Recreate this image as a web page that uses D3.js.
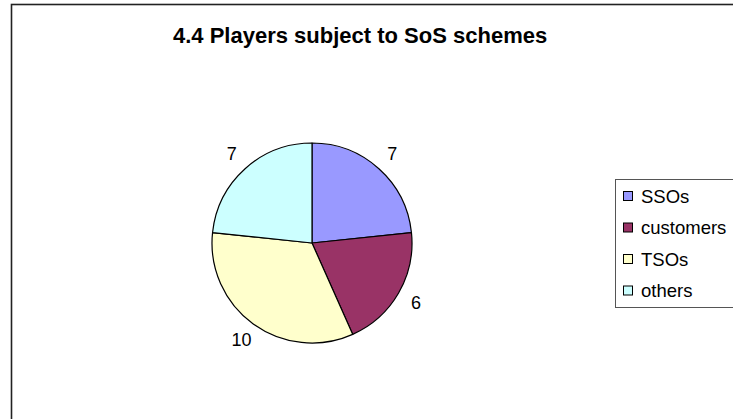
<!DOCTYPE html>
<html>
<head>
<meta charset="utf-8">
<script src="https://cdn.jsdelivr.net/npm/d3@7"></script>
<style>
  html, body { margin: 0; padding: 0; background: #fff; }
  svg { display: block; }
  text { font-family: "Liberation Sans", Arial, Helvetica, sans-serif; }
</style>
</head>
<body>
<svg id="chart" width="733" height="419"></svg>
<script>
// Players subject to security-of-supply schemes
const title = "4.4 Players subject to SoS schemes";
const categories = ["SSOs", "customers", "TSOs", "others"];
const values = [7, 6, 10, 7];
const colors = ["#9999FF", "#993366", "#FFFFCC", "#CCFFFF"];

const svg = d3.select("#chart");
const W = 733, H = 419;

// chart area frame (runs off the right and bottom edges)
svg.append("rect")
  .attr("x", 11.5).attr("y", 4.5)
  .attr("width", W + 20).attr("height", H + 20)
  .attr("fill", "#fff")
  .attr("stroke", "#222").attr("stroke-width", 1.6);

// title
svg.append("text")
  .attr("x", 173).attr("y", 43)
  .attr("text-anchor", "start")
  .attr("font-size", 22).attr("font-weight", "bold")
  .attr("fill", "#000")
  .text(title);

// pie
const cx = 312, cy = 243, r = 100, labelR = 120;
const data = categories.map((c, i) => ({ name: c, value: values[i], color: colors[i] }));
const pie = d3.pie().value(d => d.value).sort(null);
const arc = d3.arc().innerRadius(0).outerRadius(r);
const labelArc = d3.arc().innerRadius(labelR).outerRadius(labelR);

const g = svg.append("g").attr("transform", `translate(${cx},${cy})`);
const arcs = pie(data);
g.selectAll("path.slice").data(arcs).enter().append("path")
  .attr("class", "slice")
  .attr("d", arc)
  .attr("fill", d => d.data.color)
  .attr("stroke", "#000").attr("stroke-width", 1.2)
  .attr("stroke-linejoin", "round");

g.selectAll("text.val").data(arcs).enter().append("text")
  .attr("class", "val")
  .attr("transform", d => `translate(${labelArc.centroid(d)})`)
  .attr("text-anchor", "middle")
  .attr("dominant-baseline", "central")
  .attr("font-size", 18)
  .attr("fill", "#000")
  .text(d => d.data.value);

// legend
const lx = 615.5, ly = 179.5, lh = 128, step = 31.5, firstY = 196;
svg.append("rect")
  .attr("x", lx).attr("y", ly)
  .attr("width", 140).attr("height", lh)
  .attr("fill", "#fff")
  .attr("stroke", "#555").attr("stroke-width", 1);

const y = d3.scalePoint().domain(categories).range([firstY, firstY + step * (categories.length - 1)]);
const items = svg.selectAll("g.leg").data(data).enter().append("g")
  .attr("class", "leg")
  .attr("transform", d => `translate(0,${y(d.name)})`);
items.append("rect")
  .attr("x", 623.5).attr("y", -4.5)
  .attr("width", 9).attr("height", 9)
  .attr("fill", d => d.color)
  .attr("stroke", "#000").attr("stroke-width", 1);
items.append("text")
  .attr("x", 641).attr("y", 0)
  .attr("dominant-baseline", "central")
  .attr("font-size", 18.5)
  .attr("fill", "#000")
  .text(d => d.name);
</script>
</body>
</html>
